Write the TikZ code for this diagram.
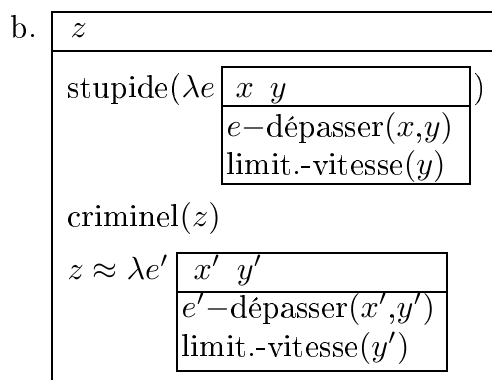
\documentclass[tikz,border=0pt]{standalone}
\usepackage[T1]{fontenc}
\begin{document}
\begin{tikzpicture}[x=0.3125pt,y=-0.3125pt,
  txt/.style={inner sep=0pt,anchor=base west,font=\fontsize{10pt}{12pt}\selectfont},
  rule/.style={line width=0.75pt}]
\useasboundingbox (0,0) rectangle (492,380);
% outer box
\coordinate (otl) at (52,12);
\coordinate (otr) at (492,12);
\coordinate (obl) at (52,380);
\coordinate (osl) at (52,51);
\coordinate (osr) at (492,51);
\draw[rule] (obl) -- (otl) -- (otr);
\draw[rule] (osl) -- (osr);
\node[txt] (lbl) at (10,37) {b.};
\node[txt] (z0) at (70,37) {$z$};
% first line
\node[txt] (stup) at (67,97) {stupide($\lambda e$};
\node[txt] (cp) at (473,97) {)};
% inner box 1
\coordinate (a1) at (222,67);
\coordinate (a2) at (470,184);
\draw[rule] (a1) rectangle (a2);
\coordinate (s1l) at (222,106);
\coordinate (s1r) at (470,106);
\draw[rule] (s1l) -- (s1r);
\node[txt] (xy) at (235,97) {$x\ \,y$};
\node[txt] (dep) at (226,136) {$e{-}$dépasser$(x$,$y)$};
\node[txt] (lim) at (226,174) {limit.-vitesse$(y)$};
% criminel
\node[txt] (crim) at (67,226) {criminel$(z)$};
\node[txt] (zeq) at (67,279) {$z\approx\lambda e'$};
% inner box 2
\coordinate (b1) at (177,253);
\coordinate (b2) at (447,371);
\draw[rule] (b1) rectangle (b2);
\coordinate (s2l) at (177,292);
\coordinate (s2r) at (447,292);
\draw[rule] (s2l) -- (s2r);
\node[txt] (xy2) at (193,279) {$x'\ \,y'$};
\node[txt] (dep2) at (181,317) {$e'{-}$dépasser$(x'$,$y')$};
\node[txt] (lim2) at (181,356) {limit.-vitesse$(y')$};
\end{tikzpicture}
\end{document}
